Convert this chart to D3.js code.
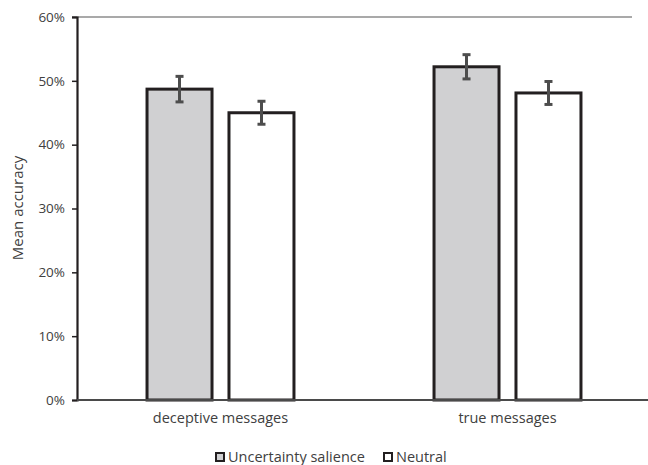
<!DOCTYPE html>
<html>
<head>
<meta charset="utf-8">
<script src="https://cdn.jsdelivr.net/npm/d3@7"></script>
<style>
  html, body { margin: 0; padding: 0; background: #fff; }
  svg { display: block; }
  text { font-family: "Open Sans", "Liberation Sans", sans-serif; fill: #404040; }
</style>
</head>
<body>
<svg id="chart" width="648" height="465"></svg>
<script>
// Mean accuracy by message type and condition
const categories = ["deceptive messages", "true messages"];
const seriesNames = ["Uncertainty salience", "Neutral"];
const uncertaintyValues = [0.487, 0.522];
const neutralValues = [0.450, 0.481];
const uncertaintyErrors = [0.020, 0.019];
const neutralErrors = [0.018, 0.018];
const yTicks = [0, 0.1, 0.2, 0.3, 0.4, 0.5, 0.6];
const fills = ["#d0d0d2", "#ffffff"];

const svg = d3.select("#chart");

const x0 = d3.scaleBand().domain(categories).range([77, 651])
  .paddingInner(0.488).paddingOuter(0.244);
const x1 = d3.scaleBand().domain(seriesNames).range([0, x0.bandwidth()])
  .paddingInner(0.207).paddingOuter(0);
const y = d3.scaleLinear().domain([0, 0.6]).range([400, 17]);

const rows = [];
categories.forEach((c, i) => {
  rows.push({ cat: c, s: seriesNames[0], v: uncertaintyValues[i], e: uncertaintyErrors[i], fill: fills[0] });
  rows.push({ cat: c, s: seriesNames[1], v: neutralValues[i], e: neutralErrors[i], fill: fills[1] });
});

// Bars
svg.append("g").selectAll("rect").data(rows).join("rect")
  .attr("x", d => x0(d.cat) + x1(d.s))
  .attr("y", d => y(d.v))
  .attr("width", x1.bandwidth())
  .attr("height", d => y(0) - y(d.v))
  .attr("fill", d => d.fill)
  .attr("stroke", "#231f20")
  .attr("stroke-width", 3);

// Error bars
const eg = svg.append("g").attr("stroke", "#4d4d4d").attr("stroke-width", 3);
rows.forEach(d => {
  const cx = x0(d.cat) + x1(d.s) + x1.bandwidth() / 2;
  eg.append("line").attr("x1", cx).attr("x2", cx).attr("y1", y(d.v + d.e)).attr("y2", y(d.v - d.e));
  eg.append("line").attr("x1", cx - 4).attr("x2", cx + 4).attr("y1", y(d.v + d.e)).attr("y2", y(d.v + d.e));
  eg.append("line").attr("x1", cx - 4).attr("x2", cx + 4).attr("y1", y(d.v - d.e)).attr("y2", y(d.v - d.e));
});

// Top line at the axis maximum
svg.append("line")
  .attr("x1", 72).attr("x2", 632)
  .attr("y1", y(0.6)).attr("y2", y(0.6))
  .attr("stroke", "#555").attr("stroke-width", 1.2);

// Y axis
const yAxis = svg.append("g").attr("transform", "translate(77,0)")
  .call(d3.axisLeft(y).tickValues(yTicks).tickFormat(d3.format(".0%")).tickSize(5).tickPadding(7));
yAxis.select(".domain").attr("stroke", "#231f20").attr("stroke-width", 2.2);
yAxis.selectAll(".tick line").attr("stroke", "#231f20").attr("stroke-width", 1.5);
yAxis.selectAll(".tick text").attr("font-size", 13.5).attr("fill", "#404040");

// X axis
const xAxis = svg.append("g").attr("transform", "translate(0,400)")
  .call(d3.axisBottom(x0).tickSize(0).tickPadding(13));
xAxis.select(".domain").attr("stroke", "#4a4a4a").attr("stroke-width", 2.2)
  .attr("d", "M77,0H648");
xAxis.selectAll(".tick text").attr("font-size", 14.5).attr("fill", "#404040");

// Y title
svg.append("text")
  .attr("transform", "translate(23,208) rotate(-90)")
  .attr("text-anchor", "middle")
  .attr("font-size", 15)
  .text("Mean accuracy");

// Legend
const legend = svg.append("g");
const legendItems = [
  { name: seriesNames[0], fill: fills[0], x: 215 },
  { name: seriesNames[1], fill: fills[1], x: 383 }
];
legendItems.forEach(it => {
  legend.append("rect").attr("x", it.x + 1).attr("y", 453).attr("width", 8).attr("height", 8)
    .attr("fill", it.fill).attr("stroke", "#231f20").attr("stroke-width", 2);
  legend.append("text").attr("x", it.x + 13).attr("y", 462).attr("font-size", 14.5).text(it.name);
});
</script>
</body>
</html>
